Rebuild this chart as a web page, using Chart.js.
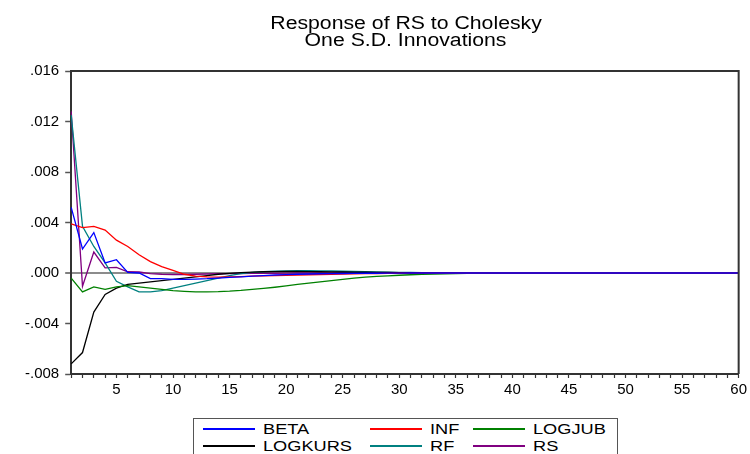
<!DOCTYPE html>
<html>
<head>
<meta charset="utf-8">
<script src="https://cdn.jsdelivr.net/npm/chart.js@4.4.1/dist/chart.umd.min.js"></script>
<style>
  html, body { margin: 0; padding: 0; background: #fff; }
  #Wrap { position: relative; width: 750px; height: 454px; overflow: hidden; }
  #Title {
    position: absolute; left: 71px; top: 15px; width: 670px; text-align: center;
    font: 18px "Liberation Sans", Arial, sans-serif; line-height: 17px; color: #000;
  }
  #Title span { display: inline-block; transform: scaleX(1.18); transform-origin: center; }
  #Legend {
    position: absolute; left: 193px; top: 418px; width: 425px; height: 50px;
    border: 1px solid #555; box-sizing: border-box; background: #fff;
  }
  .Legend-Item {
    position: absolute; height: 16px; display: flex; align-items: center;
    font: 14px "Liberation Sans", Arial, sans-serif; color: #000; white-space: nowrap;
  }
  .Legend-Line { width: 52px; height: 2px; }
  .Legend-Text { margin-left: 8px; transform: scaleX(1.3); transform-origin: left center; }
</style>
</head>
<body>
<div id="Wrap">
  <canvas id="myChart" width="750" height="454"></canvas>
  <div id="Title"></div>
  <div id="Legend"></div>
</div>
<script>
// * Data
const titleLines = ["Response of RS to Cholesky", "One S.D. Innovations"];

const periods = [
  1, 2, 3, 4, 5, 6, 7, 8, 9, 10, 11, 12, 13, 14, 15, 16, 17, 18, 19, 20,
  21, 22, 23, 24, 25, 26, 27, 28, 29, 30, 31, 32, 33, 34, 35, 36, 37, 38, 39, 40,
  41, 42, 43, 44, 45, 46, 47, 48, 49, 50, 51, 52, 53, 54, 55, 56, 57, 58, 59, 60,
];

const beta = [
  0.0052, 0.0019, 0.0032, 0.0008, 0.00105, 0.00005, 0.0, -0.00045, -0.00045, -0.0005,
  -0.0005, -0.00048, -0.00045, -0.0004, -0.00035, -0.0003, -0.00025, -0.0002, -0.00016, -0.00013,
  -0.0001, -0.00008, -0.00006, -0.00005, -0.00004, -0.00003, -0.00002, -0.00002, -0.00001, -0.00001,
  0, 0, 0, 0, 0, 0, 0, 0, 0, 0, 0, 0, 0, 0, 0, 0, 0, 0, 0, 0,
  0, 0, 0, 0, 0, 0, 0, 0, 0, 0,
];

const inf = [
  0.0039, 0.0036, 0.0037, 0.0034, 0.0026, 0.0021, 0.00145, 0.0009, 0.0005, 0.0002,
  -0.0001, -0.00025, -0.0003, -0.00032, -0.0003, -0.00028, -0.00025, -0.00022, -0.0002, -0.00018,
  -0.00016, -0.00014, -0.00012, -0.0001, -0.00008, -0.00006, -0.00005, -0.00004, -0.00003, -0.00002,
  -0.00001, 0, 0, 0, 0, 0, 0, 0, 0, 0,
  0, 0, 0, 0, 0, 0, 0, 0, 0, 0, 0, 0, 0, 0, 0, 0, 0, 0, 0, 0,
];

const logjub = [
  -0.0004, -0.0015, -0.0011, -0.0013, -0.0011, -0.001, -0.0011, -0.0012, -0.0013, -0.0014,
  -0.00145, -0.0015, -0.0015, -0.00148, -0.00144, -0.00138, -0.0013, -0.00122, -0.00113, -0.00102,
  -0.0009, -0.0008, -0.0007, -0.0006, -0.0005, -0.0004, -0.00033, -0.00027, -0.00022, -0.00018,
  -0.00014, -0.00011, -0.00008, -0.00006, -0.00004, -0.00003, -0.00002, -0.00001, 0, 0,
  0, 0, 0, 0, 0, 0, 0, 0, 0, 0, 0, 0, 0, 0, 0, 0, 0, 0, 0, 0,
];

const logkurs = [
  -0.0072, -0.0063, -0.0031, -0.0017, -0.0012, -0.0009, -0.0008, -0.0007, -0.0006, -0.0005,
  -0.0004, -0.0003, -0.0002, -0.0001, -0.00003, 0.00003, 0.00007, 0.0001, 0.00011, 0.00012,
  0.00012, 0.00011, 0.0001, 0.00009, 0.00008, 0.00007, 0.00006, 0.00005, 0.00004, 0.00003,
  0.00002, 0.00002, 0.00001, 0.00001, 0, 0, 0, 0, 0, 0,
  0, 0, 0, 0, 0, 0, 0, 0, 0, 0, 0, 0, 0, 0, 0, 0, 0, 0, 0, 0,
];

const rf = [
  0.0125, 0.0037, 0.0021, 0.0008, -0.00066, -0.0011, -0.0015, -0.0015, -0.0014, -0.0012,
  -0.001, -0.0008, -0.0006, -0.0004, -0.0002, -0.00005, 0.00005, 0.0001, 0.00015, 0.00017,
  0.00018, 0.00018, 0.00017, 0.00016, 0.00014, 0.00012, 0.0001, 0.00008, 0.00007, 0.00005,
  0.00004, 0.00003, 0.00002, 0.00001, 0.00001, 0, 0, 0, 0, 0,
  0, 0, 0, 0, 0, 0, 0, 0, 0, 0, 0, 0, 0, 0, 0, 0, 0, 0, 0, 0,
];

const rs = [
  0.0128, -0.00105, 0.00166, 0.0004, 0.00045, 0.0001, 0.00008, -0.00005, -0.0001, -0.00012,
  -0.00012, -0.0001, -0.00008, -0.00006, -0.00005, -0.00004, -0.00003, -0.00002, -0.00002, -0.00001,
  0, 0, 0, 0, 0, 0, 0, 0, 0, 0, 0, 0, 0, 0, 0, 0, 0, 0, 0, 0,
  0, 0, 0, 0, 0, 0, 0, 0, 0, 0, 0, 0, 0, 0, 0, 0, 0, 0, 0, 0,
];

const seriesNames = ["BETA", "INF", "LOGJUB", "LOGKURS", "RF", "RS"];
const seriesValues = [beta, inf, logjub, logkurs, rf, rs];
const seriesColors = ["#0000ff", "#ff0000", "#008000", "#000000", "#008080", "#800080"];

// * Functions
function formatYTick(value) {
  const text = Math.abs(value).toFixed(3).replace(/^0/, "");
  return (value < -1e-9 ? "-" : "") + text;
}

function isZero(value) {
  return Math.abs(value) < 1e-9;
}

// top and right sides of the box round the plot
const plotFrame = {
  id: "plotFrame",
  afterDraw(chart) {
    const { ctx, chartArea } = chart;
    ctx.save();
    ctx.strokeStyle = "#333";
    ctx.lineWidth = 2;
    ctx.beginPath();
    ctx.moveTo(chartArea.left, chartArea.top);
    ctx.lineTo(chartArea.right, chartArea.top);
    ctx.lineTo(chartArea.right, chartArea.bottom);
    ctx.stroke();
    ctx.restore();
  },
};

function buildTitle() {
  const title = document.getElementById("Title");
  titleLines.forEach((line) => {
    const span = document.createElement("span");
    span.textContent = line;
    title.appendChild(span);
    title.appendChild(document.createElement("br"));
  });
}

function buildLegend(chart) {
  const legend = document.getElementById("Legend");
  const columns = [9, 176, 279];
  const rows = [2, 19];

  chart.data.datasets.forEach((dataset, i) => {
    const item = document.createElement("div");
    item.className = "Legend-Item";
    item.style.left = columns[i % 3] + "px";
    item.style.top = rows[Math.floor(i / 3)] + "px";

    const line = document.createElement("span");
    line.className = "Legend-Line";
    line.style.background = seriesColors[i];

    const text = document.createElement("span");
    text.className = "Legend-Text";
    text.textContent = dataset.label;

    item.appendChild(line);
    item.appendChild(text);
    legend.appendChild(item);
  });
}

// * Chart
const Canvas = document.getElementById("myChart").getContext("2d");

const config = {
  type: "line",
  data: {
    labels: periods,
    datasets: seriesNames.map((name, i) => ({
      label: name,
      data: seriesValues[i],
      borderColor: seriesColors[i],
      backgroundColor: seriesColors[i],
      borderWidth: 1.3,
      pointRadius: 0,
      tension: 0,
      fill: false,
    })),
  },
  options: {
    responsive: false,
    animation: false,
    layout: {
      padding: { top: 71, left: 19, right: 9, bottom: 52 },
    },
    plugins: {
      legend: { display: false },
      tooltip: { enabled: false },
      title: { display: false },
    },
    scales: {
      x: {
        type: "category",
        offset: false,
        border: { display: true, color: "#333", width: 2 },
        grid: {
          drawOnChartArea: false,
          drawTicks: true,
          tickLength: 4,
          tickColor: "#333",
          tickWidth: 1.2,
        },
        ticks: {
          autoSkip: false,
          maxRotation: 0,
          padding: 3,
          color: "#000",
          font: { family: '"Liberation Sans", Arial, sans-serif', size: 15 },
          callback: function (value, index) {
            const label = periods[index];
            return label % 5 === 0 ? String(label) : "";
          },
        },
      },
      y: {
        min: -0.008,
        max: 0.016,
        border: { display: true, color: "#333", width: 2 },
        grid: {
          drawOnChartArea: true,
          drawTicks: true,
          tickLength: 6,
          tickColor: "#555",
          tickWidth: 1.5,
          color: (ctx) => (ctx.tick && isZero(ctx.tick.value) ? "#8c8c8c" : "rgba(0,0,0,0)"),
          lineWidth: (ctx) => (ctx.tick && isZero(ctx.tick.value) ? 2 : 1),
        },
        ticks: {
          stepSize: 0.004,
          padding: 6,
          color: "#000",
          font: { family: '"Liberation Sans", Arial, sans-serif', size: 15 },
          callback: formatYTick,
        },
      },
    },
  },
  plugins: [plotFrame],
};

const myChart = new Chart(Canvas, config);
buildTitle();
buildLegend(myChart);
</script>
</body>
</html>
